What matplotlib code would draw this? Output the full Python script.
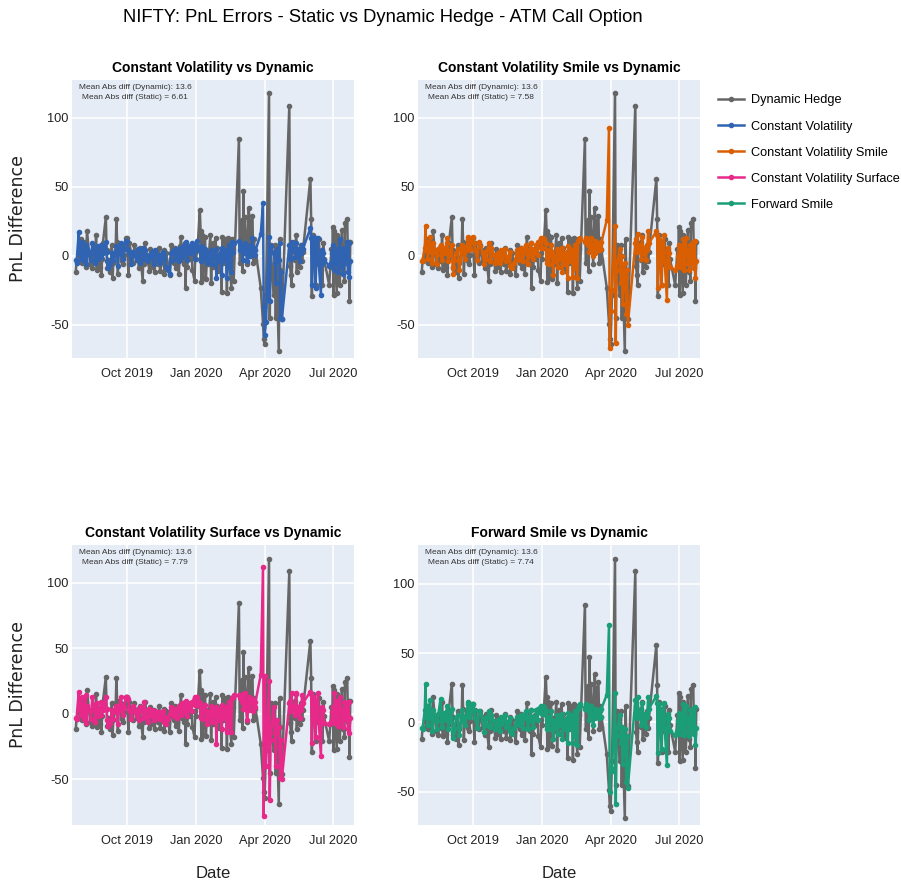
"""
NIFTY: PnL errors of static hedges vs the dynamic hedge (ATM call option)
Output: out.png
"""

import pandas as pd
import matplotlib.pyplot as plt
import matplotlib.dates as mdates

# ── 1. Data ────────────────────────────────────────────────────────────────
dates = pd.to_datetime([
    "2019-07-25", "2019-07-26", "2019-07-29", "2019-07-30", "2019-07-31",
    "2019-08-01", "2019-08-02", "2019-08-05", "2019-08-06", "2019-08-07",
    "2019-08-08", "2019-08-09", "2019-08-13", "2019-08-14", "2019-08-16",
    "2019-08-19", "2019-08-20", "2019-08-21", "2019-08-22", "2019-08-23",
    "2019-08-26", "2019-08-27", "2019-08-28", "2019-08-29", "2019-08-30",
    "2019-09-03", "2019-09-04", "2019-09-05", "2019-09-06", "2019-09-09",
    "2019-09-11", "2019-09-12", "2019-09-13", "2019-09-16", "2019-09-17",
    "2019-09-18", "2019-09-19", "2019-09-20", "2019-09-23", "2019-09-24",
    "2019-09-25", "2019-09-26", "2019-09-27", "2019-09-30",
    "2019-10-01", "2019-10-03", "2019-10-04", "2019-10-07", "2019-10-09",
    "2019-10-11", "2019-10-14", "2019-10-16", "2019-10-17", "2019-10-18",
    "2019-10-22", "2019-10-23", "2019-10-24", "2019-10-25", "2019-10-29",
    "2019-10-31",
    "2019-11-01", "2019-11-04", "2019-11-06", "2019-11-07", "2019-11-08",
    "2019-11-11", "2019-11-13", "2019-11-14", "2019-11-18", "2019-11-19",
    "2019-11-20", "2019-11-22", "2019-11-25", "2019-11-27", "2019-11-28",
    "2019-11-29",
    "2019-12-02", "2019-12-04", "2019-12-05", "2019-12-06", "2019-12-09",
    "2019-12-11", "2019-12-12", "2019-12-13", "2019-12-16", "2019-12-17",
    "2019-12-18", "2019-12-19", "2019-12-20", "2019-12-23", "2019-12-24",
    "2019-12-26", "2019-12-27", "2019-12-30", "2019-12-31",
    "2020-01-01", "2020-01-02", "2020-01-03", "2020-01-06", "2020-01-07",
    "2020-01-08", "2020-01-09", "2020-01-10", "2020-01-13", "2020-01-14",
    "2020-01-16", "2020-01-17", "2020-01-20", "2020-01-21", "2020-01-22",
    "2020-01-23", "2020-01-24", "2020-01-27", "2020-01-28", "2020-01-29",
    "2020-01-31",
    "2020-02-03", "2020-02-04", "2020-02-05", "2020-02-06", "2020-02-07",
    "2020-02-10", "2020-02-11", "2020-02-12", "2020-02-13", "2020-02-14",
    "2020-02-17", "2020-02-18", "2020-02-19", "2020-02-20",
    "2020-02-27", "2020-02-28", "2020-03-02", "2020-03-03", "2020-03-04",
    "2020-03-05", "2020-03-06", "2020-03-09", "2020-03-11", "2020-03-12",
    "2020-03-13", "2020-03-16", "2020-03-17", "2020-03-18", "2020-03-19",
    "2020-03-20",
    "2020-03-27", "2020-03-30", "2020-03-31", "2020-04-01", "2020-04-03",
    "2020-04-07", "2020-04-08", "2020-04-09", "2020-04-13", "2020-04-15",
    "2020-04-16", "2020-04-17", "2020-04-20", "2020-04-21", "2020-04-22",
    "2020-04-23", "2020-04-24",
    "2020-05-04", "2020-05-05", "2020-05-06", "2020-05-07", "2020-05-08",
    "2020-05-11", "2020-05-12", "2020-05-13", "2020-05-14", "2020-05-15",
    "2020-05-18", "2020-05-19", "2020-05-20", "2020-05-21", "2020-05-22",
    "2020-06-01", "2020-06-02", "2020-06-03", "2020-06-04", "2020-06-05",
    "2020-06-08", "2020-06-09", "2020-06-10", "2020-06-11", "2020-06-12",
    "2020-06-15", "2020-06-16", "2020-06-17", "2020-06-18", "2020-06-19",
    "2020-06-26", "2020-06-29", "2020-06-30", "2020-07-01", "2020-07-02",
    "2020-07-03", "2020-07-06", "2020-07-07", "2020-07-08", "2020-07-09",
    "2020-07-10", "2020-07-13", "2020-07-14", "2020-07-15", "2020-07-16",
    "2020-07-17", "2020-07-20", "2020-07-21", "2020-07-22", "2020-07-23",
    "2020-07-24",
])

dynamic_hedge = [
    -12, -4, 2, 8, -3, 12, -5, 6, 10, -8, 4, 18, -6, 3, -9, 7, -4, 15, -10, 2,
    -8, 5, -14, -2, 9, 28, 4, -9, -3, -12, 8, -16, -5, 3, 27, 10, -13, 2, 8, -4,
    5, -6, 1, 13,
    13, -14, 9, 2, -5, 8, -3, 4, -9, 6, -18, 3, -6, 9, -4, -11,
    5, -8, 3, -12, 1, -6, 6, -11, -3, 4, -13, 2, -7, -14, -2, 8,
    -5, 6, -9, 2, -13, 7, 14, -3, -6, 9, -23, 3, -8, 5, -2, 8, -10, -18, 2,
    -2, 8, 6, 33, 18, -19, 15, -16, 14, -17, 3, -6, 15, -20, 4, 9, -8, 13, -3, 6, -11,
    2, -26, 14, -5, 10, 12, -27, 5, 13, -4, -23, 12, 5, -18,
    85, -5, 26, -11, 47, 10, 28, -6, 35, 25, 6, 29, -5, 12, -3, 4,
    -23, -49, -60, -64, -28, 118, -45, 8, -28, 8, -45, -8, -69, 12, -10, -45, -46,
    109, -7, -14, -21, 4, 10, -3, 15, -12, 5, -8, 2, 8, -4, 3,
    56, 27, -29, 6, 15, -21, 8, 3, -6, 12, -10, 4, -21, 9, -2,
    -21, 5, -8, 21, -28, 18, -27, 15, -5, 3, -21, 19, -12, 7, -18, 24, 27, -6, 10, -33, 10,
]

constant_vol = [
    -3, -5, 17, 2, 6, -2, 10, -4, 3, 8, -6, 5, 1, -3, 9, 2, -5, 4, 7, -2,
    3, -1, 8, 5, 2, 10, 3, -4, -9, -6, 2, -3, 0, 4, 7, 2, -7, 3, 9, 4,
    1, -2, 5, 11,
    11, 4, 2, -6, 3, 1, -3, 5, 0, -5, 6, 2, -2, 4, -4, 1,
    -1, 3, -6, 2, 4, -3, 1, -5, 3, -2, 0, -8, -10, -13, -4, 2,
    4, -2, 5, 1, -4, 6, 3, -1, 8, 2, 10, 4, -3, 7, 2, 5, 9, -2, 6,
    8, 11, 4, 6, -4, 3, 7, -2, 5, 1, -5, 2, -3, 4, -6, 2, -1, 5, -16, 1, -4,
    3, -14, 6, -3, 4, -2, -16, 5, -8, 8, -12, 10, 3, 9,
    11, 4, 8, -3, 6, 2, 9, -4, 5, 7, 0, 13, 3, 6, 1, 4,
    16, 38, -37, -57, -48, 14, -33, 7, 2, -5, -20, 5, -3, 9, -45, -12, -46,
    8, 4, -2, 10, 6, 3, -1, 9, 0, 5, -4, 2, 3, 8, 5,
    20, 13, -21, 7, 14, -23, 13, 2, 13, -5, -28, 4, -6, 2, -3,
    -7, -5, 2, 8, -10, 3, -6, 5, -12, 1, 12, -8, 3, -13, 6, -5, 10, -12, 9, -15, -4,
]

constant_vol_smile = [
    -4, -3, 6, 22, 4, 10, -2, 14, 3, 7, -5, 9, 2, -6, 5, 8, 1, -3, 6, 2,
    4, 9, 13, -4, 1, 8, -8, -13, -3, 2, 5, -4, -10, 3, 8, 5, 2, -2, 7, 14,
    12, 4, 6, 13,
    14, 9, 4, -3, 10, 7, 2, -6, 3, -2, 9, 5, -4, 6, 1, -5,
    -3, 2, -5, 4, -2, 1, 5, -4, 0, 3, -7, -9, -5, -2, 4, 2,
    -3, 6, 2, -4, 5, 8, 2, -6, 4, 9, 0, 5, -2, 3, 8, 1, 10, 13, 6,
    6, 13, 12, 9, -5, 4, 2, -6, 8, 3, -14, 0, -4, 5, -8, 3, -2, 6, -12, 2, -6,
    3, -16, 7, -4, 5, -2, -15, 4, -9, 8, -16, 11, 12, 13,
    10, 13, 8, 12, 3, 7, 13, 0, 11, 2, 6, 9, 4, 8, 5, 10,
    26, 93, -67, -40, -25, 22, -63, -10, 5, -20, 0, -35, -5, -15, -42, -10, -50,
    9, 12, 3, 16, 5, 8, -2, 14, 2, 6, -3, 4, 7, 18, 9,
    18, 15, -23, 9, 12, -21, 10, 3, 15, -4, -32, 6, -5, 2, -8,
    -10, -7, 0, 8, -8, 5, -5, 12, -10, 2, 13, -6, 4, -10, 8, -5, 10, -9, 11, -16, -4,
]

constant_vol_surface = [
    -3, -4, 17, 3, 8, -1, 13, -4, 5, 14, -7, 6, 2, -4, 13, 3, -6, 5, 8, -2,
    4, -1, 9, 6, 3, 13, 4, -5, -9, -7, 3, -4, 1, 5, 6, 2, -8, 4, 13, 6,
    2, -1, 5, 13,
    13, 11, 3, -4, 6, 2, -2, 3, -5, 5, 1, -3, 9, 2, -6, 4,
    -2, 3, -5, 2, 0, -3, 1, -4, 2, -2, -6, -8, -4, 0, 3, 5,
    -2, 4, 1, -3, 6, 3, -1, 8, 4, 1, 6, 10, -2, 4, 8, 2, 9, 13, 7,
    7, 13, 10, 8, -3, 5, 4, -4, 7, 2, -8, 1, -3, 6, -6, 3, -2, 5, -23, 2, -5,
    4, -12, 7, -3, 5, -2, -14, 6, -9, 9, -14, 12, 13, 14,
    14, 12, 9, 15, 4, 6, 16, -5, 13, 3, 8, 11, 2, 7, 5, 9,
    30, 112, -78, 29, -40, 25, -66, -20, 5, -15, -40, -5, -10, -25, -49, -20, -50,
    8, 10, 2, 16, 4, 7, -1, 16, 1, 5, -3, 3, 6, 14, 8,
    17, 15, -22, 8, 13, -18, 10, 2, 16, -5, -32, 5, -4, 3, -7,
    -8, -6, 1, 5, -7, 16, -4, 10, -9, 2, 13, -6, 3, -10, 9, -4, 8, -12, 9, -15, -3,
]

forward_smile = [
    -4, -5, 9, 28, 4, 12, -2, 16, 3, 7, -6, 9, 2, -5, 6, 17, 1, -3, 7, 2,
    4, 8, 12, -5, 1, 10, -7, -11, -4, 3, 5, -4, -9, 3, 9, 4, 1, -2, 6, 13,
    15, 4, 7, 12,
    13, 9, 3, -4, 8, 6, 2, -7, 3, -2, 8, 5, -3, 5, 1, -5,
    -2, 2, -6, 4, -1, 2, 5, -3, 1, 3, -6, -8, -4, -1, 4, 2,
    -2, 5, 3, -4, 6, 8, 3, -5, 4, 9, 1, 4, -3, 3, 9, 2, 10, 12, 7,
    6, 12, 11, 8, -5, 4, 3, -5, 8, 2, -12, 1, -4, 5, -8, 3, -2, 6, -12, 2, -5,
    3, -15, 7, -4, 5, -2, -15, 5, -10, 8, -16, 10, 12, 13,
    10, 13, 9, 12, 2, 7, 12, -2, 10, 3, 6, 9, 3, 8, 4, 10,
    20, 70, -50, -33, -35, 21, -59, -10, 5, -15, -3, -30, -5, -18, -43, -10, -47,
    16, 12, 3, 18, 6, 9, -2, 14, 1, 6, -3, 4, 7, 18, 10,
    19, 14, -22, 8, 13, -19, 10, 3, 14, -4, -31, 6, -5, 3, -6,
    -9, -6, 1, 7, -8, 5, -5, 13, -9, 2, 12, -6, 4, -10, 9, -5, 10, -8, 11, -16, -4,
]

static_names = ["Constant Volatility", "Constant Volatility Smile",
                "Constant Volatility Surface", "Forward Smile"]
static_series = [constant_vol, constant_vol_smile, constant_vol_surface, forward_smile]
static_mad = ["6.61", "7.58", "7.79", "7.74"]
dynamic_mad = "13.6"

for s in static_series:
    assert len(s) == len(dates), (len(s), len(dates))
assert len(dynamic_hedge) == len(dates)

# ── 2. Style ───────────────────────────────────────────────────────────────
plt.rcParams["font.family"] = ["Liberation Sans", "DejaVu Sans"]
plt.rcParams["axes.unicode_minus"] = False

gray = "#666666"
colors = ["#3064B2", "#D95F02", "#E7298A", "#1B9E77"]
bg = "#E5ECF6"
txt = "#222222"

# axes rectangles in figure pixels (figure 901 x 884 px)
W, H = 901, 884
rects = [(72, 80, 354, 358), (418, 80, 700, 358),
         (72, 545, 354, 825), (418, 545, 700, 825)]
ylims = [(-74, 127.5), (-74, 127.5), (-85, 129), (-74, 128)]

fig = plt.figure(figsize=(W / 100, H / 100), dpi=100)

handles = []
for i, (name, series) in enumerate(zip(static_names, static_series)):
    x0, y0, x1, y1 = rects[i]
    ax = fig.add_axes([x0 / W, 1 - y1 / H, (x1 - x0) / W, (y1 - y0) / H])
    ax.set_facecolor(bg)
    for sp in ax.spines.values():
        sp.set_visible(False)
    ax.grid(color="white", linewidth=1.1)
    ax.set_axisbelow(True)

    hd, = ax.plot(dates, dynamic_hedge, color=gray, lw=1.8, marker="o", ms=3.0,
                  label="Dynamic Hedge")
    hs, = ax.plot(dates, series, color=colors[i], lw=1.8, marker="o", ms=3.0,
                  label=name)
    if i == 0:
        handles.append(hd)
    handles.append(hs)

    ax.set_xlim(pd.Timestamp("2019-07-20"), pd.Timestamp("2020-07-29"))
    ax.set_ylim(*ylims[i])
    ax.set_yticks([-50, 0, 50, 100])
    ax.xaxis.set_major_locator(mdates.MonthLocator(bymonth=[1, 4, 7, 10]))
    ax.xaxis.set_major_formatter(mdates.DateFormatter("%b %Y"))
    ax.tick_params(length=0, labelsize=9.2, colors=txt, pad=2.5)
    ax.tick_params(axis="x", pad=7)

    ax.set_title(name + " vs Dynamic", fontsize=10, fontweight="bold", pad=6)
    ax.text(0.223, 0.985,
            f"Mean Abs diff (Dynamic): {dynamic_mad}\nMean Abs diff (Static) = {static_mad[i]}",
            transform=ax.transAxes, ha="center", va="top", fontsize=6.0,
            color="#333333", linespacing=1.55)

    if i % 2 == 0:
        ax.set_ylabel("PnL Difference", fontsize=12.5, family="DejaVu Sans",
                      color=txt, va="center")
        ax.yaxis.set_label_coords(-0.19, 0.5)
    if i >= 2:
        ax.set_xlabel("Date", fontsize=12, color=txt, labelpad=14)

fig.suptitle("NIFTY: PnL Errors - Static vs Dynamic Hedge - ATM Call Option",
             x=383 / W, y=1 - 17 / H, va="center", fontsize=13.2)

fig.legend(handles, [h.get_label() for h in handles], loc="upper left",
           bbox_to_anchor=(706 / W, 1 - 83 / H), frameon=False,
           fontsize=9.2, handlelength=2.1, handletextpad=0.5, labelspacing=1.1,
           numpoints=1)

plt.savefig("out.png", dpi=100)
print("saved: out.png")
